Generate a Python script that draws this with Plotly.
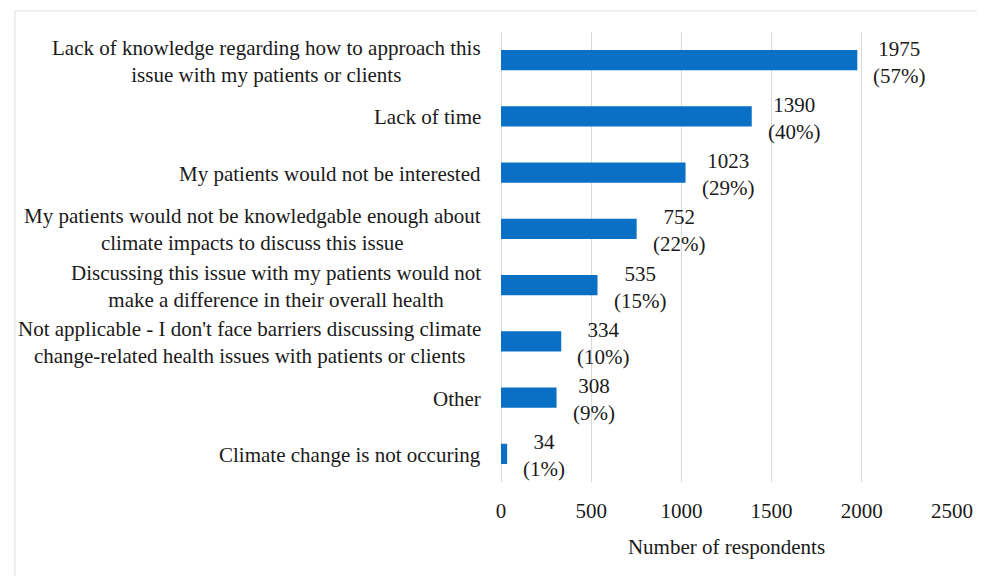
import plotly.graph_objects as go

categories = [
    "Lack of knowledge regarding how to approach this<br>issue with my patients or clients",
    "Lack of time",
    "My patients would not be interested",
    "My patients would not be knowledgable enough about<br>climate impacts to discuss this issue",
    "Discussing this issue with my patients would not<br>make a difference in their overall health",
    "Not applicable - I don't face barriers discussing climate<br>change-related health issues with patients or clients",
    "Other",
    "Climate change is not occuring",
]
counts = [1975, 1390, 1023, 752, 535, 334, 308, 34]
percents = ["57%", "40%", "29%", "22%", "15%", "10%", "9%", "1%"]
x_ticks = [0, 500, 1000, 1500, 2000, 2500]

FONT = "Liberation Serif"
FS = 21
BLUE = "#0A70C6"
TXT = "#1a1a1a"

# page is offset by 8px body margin
OFF = 8
W, H = 985 - OFF, 576 - OFF
L, R, T, B = 501 - OFF, 985 - 957, 32 - OFF, 576 - 482

fig = go.Figure()
fig.add_trace(go.Bar(
    x=counts, y=categories, orientation="h",
    marker=dict(color=BLUE, line=dict(width=0)),
    width=0.36, hoverinfo="x+y",
))

annotations = []
for c, v, p in zip(categories, counts, percents):
    annotations.append(dict(
        x=v, y=c, xref="x", yref="y", text=f"{v}<br>({p})",
        xanchor="left", yanchor="middle", align="center", xshift=14, yshift=-2,
        showarrow=False, font=dict(family=FONT, size=FS, color=TXT),
    ))
    annotations.append(dict(
        x=0, y=c, xref="paper", yref="y", text=c,
        xanchor="right", yanchor="middle", align="center", xshift=-18, yshift=-1,
        showarrow=False, font=dict(family=FONT, size=FS, color=TXT),
    ))

pw = W - L - R
ph = H - T - B
def px_x(p):
    return (p - OFF - L) / pw
def px_y(p):
    return (H - B - (p - OFF)) / ph

shapes = [
    dict(type="line", xref="paper", yref="paper", x0=px_x(9.5), x1=px_x(990),
         y0=px_y(11), y1=px_y(11), line=dict(color="#e3e3e3", width=1.2)),
    dict(type="line", xref="paper", yref="paper", x0=px_x(9.5), x1=px_x(9.5),
         y0=px_y(11), y1=px_y(590), line=dict(color="#e3e3e3", width=1.2)),
]

fig.update_layout(
    width=W, height=H,
    margin=dict(l=L, r=R, t=T, b=B, pad=0),
    paper_bgcolor="white", plot_bgcolor="white",
    showlegend=False,
    annotations=annotations,
    shapes=shapes,
    font=dict(family=FONT, size=FS, color=TXT),
    xaxis=dict(
        range=[0, 2500], tickvals=x_ticks, ticktext=[str(t) for t in x_ticks],
        showgrid=True, gridcolor="#d9d9d9", gridwidth=1.2,
        zeroline=True, zerolinecolor="#d9d9d9", zerolinewidth=1.2,
        showline=False, ticks="outside", ticklen=10, tickcolor="rgba(0,0,0,0)",
        tickfont=dict(family=FONT, size=FS, color=TXT),
        title=dict(text="Number of respondents", standoff=17,
                   font=dict(family=FONT, size=FS, color=TXT)),
        fixedrange=True,
    ),
    yaxis=dict(
        categoryorder="array", categoryarray=categories[::-1],
        showticklabels=False, showgrid=False, zeroline=False, showline=False,
        range=[-0.5, len(categories) - 0.5], fixedrange=True,
    ),
)

fig.write_html("out.html")
